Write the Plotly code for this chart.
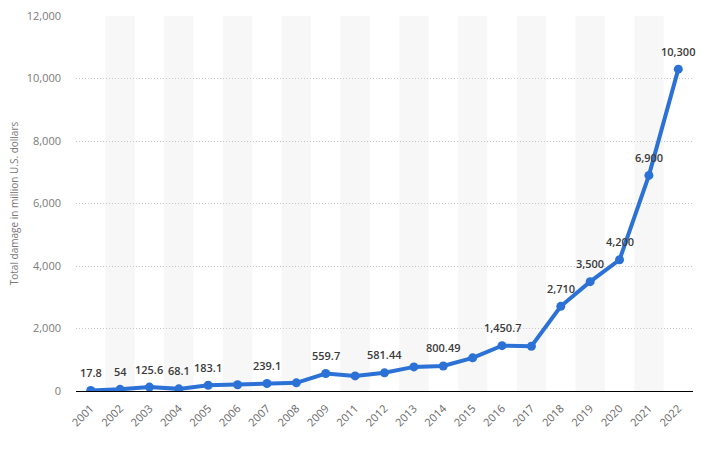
import plotly.graph_objects as go

years = ["2001", "2002", "2003", "2004", "2005", "2006", "2007", "2008", "2009",
         "2011", "2012", "2013", "2014", "2015", "2016", "2017", "2018", "2019",
         "2020", "2021", "2022"]
damage = [17.8, 54, 125.6, 68.1, 183.1, 200, 239.1, 262, 559.7,
          482, 581.44, 772, 800.49, 1062, 1450.7, 1432, 2710, 3500,
          4200, 6900, 10300]
labels = ["17.8", "54", "125.6", "68.1", "183.1", "", "239.1", "", "559.7",
          "", "581.44", "", "800.49", "", "1,450.7", "", "2,710", "3,500",
          "4,200", "6,900", "10,300"]
y_ticks = [0, 2000, 4000, 6000, 8000, 10000, 12000]
y_ticktext = ["0", "2,000", "4,000", "6,000", "8,000", "10,000", "12,000"]

FONT = "Open Sans, Lato, sans-serif"

fig = go.Figure()
fig.add_trace(go.Scatter(
    x=years, y=damage, mode="lines+markers",
    line=dict(color="#2c72d6", width=4),
    marker=dict(color="#2c72d6", size=9),
    hoverinfo="skip", showlegend=False,
))

shapes = []
for i in range(1, len(years), 2):
    shapes.append(dict(type="rect", xref="x", yref="paper",
                       x0=i - 0.5, x1=i + 0.5, y0=0, y1=1,
                       fillcolor="#f7f7f7", line=dict(width=0), layer="below"))

annotations = []
for i, (v, t) in enumerate(zip(damage, labels)):
    if t:
        annotations.append(dict(x=i, y=v, xref="x", yref="y", text=t,
                                showarrow=False, yshift=18,
                                font=dict(family=FONT, size=11, color="#3a3a3a",
                                          weight=600),
                                xanchor="center", yanchor="middle"))

fig.update_layout(
    width=708, height=450,
    margin=dict(l=76, r=15, t=16, b=59),
    paper_bgcolor="white", plot_bgcolor="white",
    shapes=shapes, annotations=annotations,
    font=dict(family=FONT),
    xaxis=dict(type="category", tickangle=-45, showgrid=False,
               tickfont=dict(size=11, color="#666666"),
               showline=False, zeroline=False, ticks="",
               ticklabelstandoff=8,
               automargin=False,
               range=[-0.5, len(years) - 0.5]),
    yaxis=dict(range=[0, 12000], tickvals=y_ticks, ticktext=y_ticktext,
               showgrid=True, gridcolor="#c8c8c8", griddash="1px,2px", gridwidth=1,
               zeroline=True, zerolinecolor="#000000", zerolinewidth=1.2,
               tickfont=dict(size=11, color="#7a7a7a"), ticks="",
               ticklabelstandoff=14, automargin=False,
               title=dict(text="Total damage in million U.S. dollars",
                          font=dict(size=10, color="#777777"), standoff=6)),
)

fig.write_html("out.html")
